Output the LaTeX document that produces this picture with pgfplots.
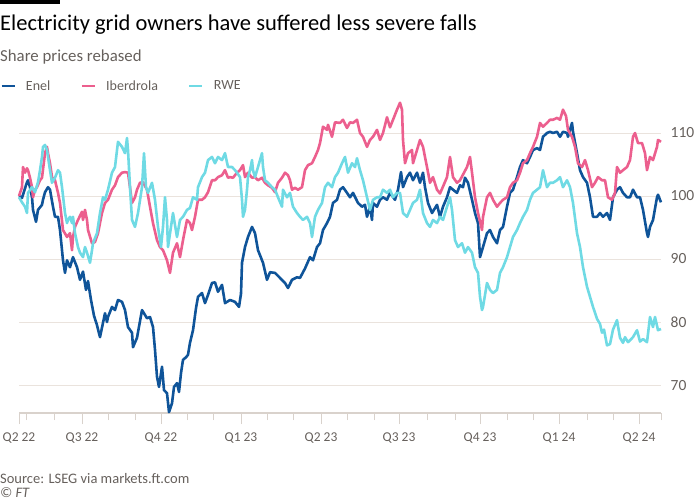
\documentclass[border=0pt]{standalone}
\usepackage{fontspec}
\setmainfont{Carlito}
\usepackage{pgfplots}
\pgfplotsset{compat=1.18}
\definecolor{enel}{HTML}{0F5499}
\definecolor{iber}{HTML}{EC5F8E}
\definecolor{rwe}{HTML}{6FDAE4}
\definecolor{ftgray}{HTML}{66605C}
\definecolor{gridc}{HTML}{EAE3DD}
\definecolor{axisc}{HTML}{D9D2CC}
\begin{document}
\begin{tikzpicture}[x=1pt,y=1pt]
\fill[black] (0,500) rectangle (60,496);
\node[anchor=base west, inner sep=0pt, font=\fontsize{22.5}{26}\selectfont] at (0,469) {Electricity grid owners have suffered less severe falls};
\node[anchor=base west, inner sep=0pt, text=ftgray, font=\fontsize{16.8}{19}\selectfont] at (0,438.5) {Share prices rebased};
\node[anchor=base west, inner sep=0pt, text=ftgray, font=\fontsize{14.5}{16}\selectfont] at (0,17) {Source: LSEG via markets.ft.com};
\node[anchor=base west, inner sep=0pt, text=ftgray, font=\fontsize{14.5}{16}\selectfont\itshape] at (0,3) {© FT};
\begin{axis}[at={(19pt,87pt)}, anchor=south west, scale only axis,
  width=642pt, height=313pt,
  xmin=19, xmax=661, ymin=65.56, ymax=115.24,
  clip=false,
  axis x line*=bottom, axis y line*=right,
  y axis line style={draw=none},
  x axis line style={draw=axisc, line width=1.5pt},
  xtick={19,82,161,241,321,399,480,559,639},
  xticklabels={Q2 22,Q3 22,Q4 22,Q1 23,Q2 23,Q3 23,Q4 23,Q1 24,Q2 24},
  minor xtick={26,54,108,135,187,213,267,293,347,374,427,455,507,533,587,613,661},
  tick align=outside,
  major tick length=11pt, minor tick length=7pt,
  xtick style={draw=axisc, line width=1pt},
  minor x tick style={draw=axisc, line width=1pt},
  ytick={70,80,90,100,110},
  ytick style={draw=none},
  ymajorgrids, grid style={draw=gridc, line width=1pt},
  ticklabel style={text=ftgray, font=\fontsize{13.5}{15}\selectfont},
  /pgf/number format/assume math mode=true,
  yticklabel={\makebox[0pt][l]{\pgfmathprintnumber{\tick}}},
  yticklabel style={inner sep=0pt, xshift=-2pt, font=\fontsize{15.5}{17}\selectfont},
  xticklabel style={anchor=base, inner sep=0pt, yshift=-17pt},
  legend columns=3,
  legend style={draw=none, fill=none, inner sep=0pt,
    at={(axis description cs:-0.0296,1.0447)}, anchor=west,
    /tikz/every odd column/.style={column sep=10pt},
    /tikz/every even column/.style={column sep=30pt},
    nodes={inner sep=0pt, text=ftgray, font=\fontsize{14}{16}\selectfont}},
  legend cell align=left,
  legend image code/.code={\draw[#1, line width=2.8pt] (0pt,0pt) -- (13pt,0pt);},
  every axis plot/.append style={line width=2.6pt, line join=round},
]
\addplot[enel] coordinates {(19,100)(22,99.7)(27,102.2)(28,102.5)(30,101.4)(32,99.8)(33,97.8)(36,95.9)(38,97.8)(42,98.6)(43,99.4)(45,100.6)(48,101.4)(50,101.0)(53,98.3)(55,96.7)(58,96.7)(60,94.6)(63,89.8)(65,87.8)(67,89.8)(70,88.7)(73,90.3)(77,88.7)(80,86.7)(83,88.0)(86,85.1)(88,86.5)(91,83.5)(94,81.0)(97,79.5)(100,77.6)(105,81.4)(107,80.0)(108,80.8)(112,82.4)(115,81.9)(118,83.5)(122,83.2)(125,81.9)(128,79.2)(132,78.3)(133,76.0)(137,77.5)(142,81.9)(147,80.6)(150,80.8)(153,79.2)(155,75.6)(157,71.3)(159,69.7)(162,72.9)(164,69.2)(167,68.7)(169,65.7)(172,67.1)(174,69.7)(177,70.3)(179,68.9)(181,71.9)(183,74.0)(186,74.4)(188,74.8)(190,76.7)(193,78.7)(196,82.2)(198,84.0)(202,84.6)(205,83.0)(208,84.3)(212,86.2)(215,86.3)(218,84.8)(222,85.9)(225,83.0)(230,83.5)(235,83.2)(239,82.4)(241,84.5)(242,89.4)(245,91.9)(248,93.5)(252,95.1)(255,94.1)(258,91.4)(262,89.8)(263,89.4)(267,86.7)(270,87.9)(275,87.8)(280,87.0)(285,86.2)(288,85.4)(292,86.7)(297,87.1)(300,87.0)(305,88.5)(310,90.3)(313,89.8)(317,91.9)(320,92.5)(323,94.6)(327,95.7)(330,96.7)(333,98.9)(337,99.4)(340,101.0)(343,101.4)(347,100.5)(350,99.8)(353,100.5)(358,98.9)(362,98.3)(365,98.6)(367,96.7)(370,98.3)(372,96.2)(373,98.9)(377,98.3)(380,99.4)(383,99.8)(387,99.4)(390,100.5)(395,99.4)(398,101.0)(401,103.8)(403,101.4)(407,103.0)(410,103.7)(413,102.5)(417,103.7)(420,102.1)(423,103.7)(425,101.4)(428,98.9)(432,97.3)(437,98.6)(440,96.7)(443,98.3)(447,99.8)(450,101.4)(453,101.0)(457,100.5)(460,101.7)(463,101.4)(465,102.9)(468,102.1)(472,99.4)(475,97.3)(478,95.7)(480,90.3)(483,91.9)(487,94.1)(490,94.6)(493,93.5)(497,92.5)(500,94.6)(503,95.1)(507,98.3)(510,100.5)(513,101.0)(517,103.0)(520,104.6)(523,105.7)(527,105.2)(530,106.2)(533,107.3)(537,107.6)(540,107.3)(543,109.4)(547,110.0)(550,110.2)(553,110.0)(557,110.2)(560,109.4)(563,110.2)(567,110.0)(568,109.4)(572,111.6)(573,110.2)(577,106.8)(580,104.1)(583,103.0)(587,102.1)(590,99.8)(593,96.7)(597,96.7)(600,97.3)(603,96.7)(607,97.3)(610,96.2)(613,99.8)(617,101.0)(620,101.4)(623,100.5)(627,99.8)(630,99.8)(633,101.0)(637,99.8)(640,99.8)(643,97.8)(647,94.1)(648,93.5)(650,95.1)(653,96.2)(657,99.8)(658,100.2)(661,99.0)};
\addlegendentry{Enel}
\addplot[iber] coordinates {(19,100)(22,101.4)(23,104.6)(25,103.7)(27,104.4)(28,104.1)(30,102.9)(32,101.4)(33,99.8)(35,101.0)(37,101.4)(40,102.5)(42,102.9)(45,106.8)(47,107.8)(48,106.8)(50,105.2)(52,103.0)(55,102.5)(58,100.5)(60,98.9)(63,94.6)(67,93.5)(70,94.1)(72,91.4)(73,93.5)(75,95.1)(78,96.2)(82,97.5)(83,96.2)(85,97.8)(87,96.2)(88,94.6)(92,92.5)(95,92.7)(98,94.1)(102,97.3)(105,98.9)(108,99.4)(112,101.0)(115,101.7)(118,103.0)(122,103.7)(125,103.8)(128,103.7)(130,101.4)(132,98.9)(135,99.8)(137,101.0)(140,102.1)(143,102.2)(147,101.0)(150,98.3)(153,95.7)(157,93.0)(160,91.9)(163,91.4)(167,89.8)(170,87.8)(173,91.0)(177,92.5)(180,90.3)(183,93.0)(187,96.2)(190,95.7)(192,94.6)(195,96.7)(198,99.4)(202,99.4)(205,99.8)(208,100.6)(212,102.5)(215,102.5)(218,103.0)(222,103.3)(225,104.1)(228,102.9)(230,103.0)(233,102.9)(237,103.7)(240,104.1)(243,104.9)(245,103.0)(248,103.7)(252,102.9)(255,103.0)(258,102.5)(262,102.9)(265,102.1)(268,101.7)(272,101.3)(275,100.6)(278,102.1)(282,102.9)(285,103.7)(288,103.3)(290,102.5)(292,101.0)(295,101.3)(298,101.0)(302,101.4)(305,104.1)(308,104.9)(312,105.2)(315,106.2)(318,107.3)(320,108.4)(323,111.0)(327,110.5)(328,111.3)(332,109.4)(335,111.7)(340,111.6)(343,112.1)(347,110.8)(350,111.7)(353,111.6)(357,112.1)(360,110.0)(363,109.4)(367,107.8)(370,108.9)(373,109.4)(377,110.5)(380,108.9)(383,110.0)(387,112.5)(390,110.9)(393,112.1)(397,113.7)(400,114.8)(402,113.7)(403,108.9)(405,105.2)(408,106.8)(412,107.3)(413,105.2)(417,107.3)(420,108.9)(423,107.8)(427,104.6)(430,102.1)(433,103.0)(437,101.0)(440,100.4)(443,101.5)(447,103.0)(450,106.2)(453,103.0)(457,102.1)(460,102.5)(463,103.4)(467,104.6)(470,106.2)(472,103.7)(475,99.8)(478,97.3)(482,94.6)(483,96.7)(487,99.8)(490,100.5)(493,99.4)(497,98.3)(500,98.9)(503,99.4)(507,99.8)(510,101.4)(513,102.1)(517,102.5)(520,103.7)(523,105.2)(527,105.7)(530,106.8)(533,107.8)(537,109.4)(540,111.6)(543,111.0)(547,111.6)(550,112.1)(553,112.1)(557,112.4)(560,112.1)(563,113.7)(566,112.7)(568,110.5)(572,109.4)(575,107.8)(578,105.2)(582,104.6)(585,105.7)(588,104.1)(592,101.4)(595,102.1)(598,103.0)(602,102.5)(605,102.5)(608,99.8)(612,99.4)(615,100.5)(617,104.6)(620,103.7)(623,104.1)(627,104.6)(630,105.7)(633,109.4)(635,110.0)(638,108.4)(642,108.4)(645,106.8)(647,104.1)(650,106.2)(653,105.7)(657,107.8)(658,108.9)(661,108.6)};
\addlegendentry{Iberdrola}
\addplot[rwe] coordinates {(19,99.8)(22,99.0)(25,98.3)(27,97.3)(28,100.5)(32,101.4)(35,100.6)(38,102.2)(40,104.1)(42,106.2)(43,107.8)(45,108.1)(47,107.3)(48,106.2)(50,104.1)(52,102.1)(55,102.9)(58,104.1)(60,103.7)(62,101.4)(65,97.3)(67,95.7)(68,96.2)(70,96.7)(72,95.7)(73,96.7)(75,94.1)(78,91.9)(80,91.0)(83,90.3)(85,91.9)(87,91.0)(90,89.4)(92,91.4)(93,92.5)(97,94.1)(100,97.3)(103,99.8)(105,99.4)(108,101.0)(112,103.7)(115,104.6)(118,108.6)(122,107.8)(125,106.8)(127,109.2)(128,107.3)(130,101.4)(132,96.2)(135,95.1)(138,97.3)(142,101.4)(144,106.8)(146,101.4)(148,100.5)(152,102.1)(155,99.4)(158,95.1)(161,91.9)(163,95.1)(165,99.8)(167,96.2)(168,91.9)(172,96.2)(173,97.3)(177,93.5)(180,96.2)(183,96.7)(187,97.8)(190,98.1)(193,99.8)(197,99.4)(198,101.4)(202,103.0)(205,103.7)(208,105.7)(212,106.2)(215,105.2)(218,106.2)(222,105.7)(225,106.8)(228,104.6)(232,104.6)(235,104.1)(237,103.7)(240,103.0)(242,99.4)(243,96.7)(245,97.8)(247,101.0)(248,103.0)(250,104.1)(252,105.7)(253,104.1)(255,103.0)(258,104.6)(262,106.8)(263,104.6)(265,102.5)(268,102.1)(272,101.4)(275,101.0)(278,99.8)(282,98.3)(283,101.0)(287,99.8)(290,100.5)(293,98.3)(297,97.3)(300,96.7)(303,96.2)(307,96.7)(310,95.7)(312,93.5)(315,96.7)(318,97.8)(322,98.9)(325,101.4)(328,102.1)(332,101.4)(335,103.0)(338,103.7)(342,105.2)(345,106.2)(348,103.7)(352,105.2)(355,104.6)(357,106.0)(360,104.1)(363,102.5)(367,99.8)(370,97.8)(373,99.4)(377,99.8)(380,99.8)(383,101.0)(387,100.5)(390,101.0)(393,99.8)(397,100.5)(400,100.5)(403,97.3)(407,96.7)(410,97.8)(413,98.9)(417,99.4)(420,101.0)(423,97.3)(427,95.7)(430,95.1)(433,96.2)(437,95.7)(440,96.7)(443,96.2)(447,98.3)(450,99.8)(452,97.8)(455,93.0)(458,91.9)(462,92.5)(465,91.0)(468,91.9)(472,91.0)(475,88.7)(478,87.8)(480,84.0)(482,81.9)(483,82.4)(487,86.2)(490,85.1)(493,84.6)(497,85.1)(500,87.8)(503,88.7)(507,90.3)(510,91.9)(513,93.5)(517,94.6)(520,95.7)(523,96.7)(527,97.8)(530,99.4)(533,100.5)(537,101.0)(540,101.4)(543,104.1)(547,101.4)(550,102.1)(553,102.1)(557,102.5)(560,103.0)(563,101.4)(567,102.5)(570,101.4)(573,98.9)(577,94.1)(580,91.9)(583,88.7)(587,85.6)(590,84.0)(593,82.4)(597,80.5)(600,79.7)(602,78.3)(604,78.8)(607,76.3)(610,76.5)(613,78.8)(617,80.3)(620,77.5)(623,76.7)(625,77.6)(628,76.8)(633,77.6)(637,78.7)(640,76.9)(643,77.3)(647,76.8)(650,80.8)(653,79.2)(655,80.8)(658,78.7)(661,78.9)};
\addlegendentry{RWE}
\end{axis}
\pgfresetboundingbox
\path[use as bounding box] (0,0) rectangle (700,500);
\end{tikzpicture}
\end{document}
